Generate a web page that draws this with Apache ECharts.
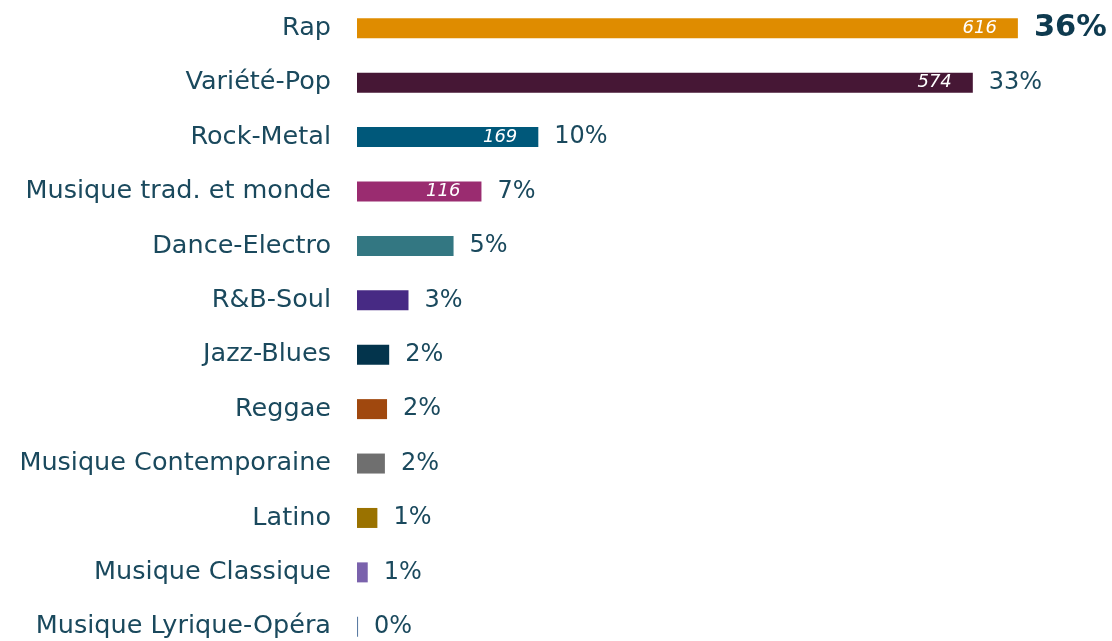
<!DOCTYPE html>
<html>
<head>
<meta charset="utf-8">
<script src="https://cdn.jsdelivr.net/npm/echarts@6/dist/echarts.min.js"></script>
<style>
  html, body { margin: 0; padding: 0; background: #ffffff; }
  #chart { width: 1112px; height: 641px; }
</style>
</head>
<body>
<div id="chart"></div>
<script>
// Genres, top to bottom
const genres = [
  'Rap', 'Variété-Pop', 'Rock-Metal', 'Musique trad. et monde', 'Dance-Electro',
  'R&B-Soul', 'Jazz-Blues', 'Reggae', 'Musique Contemporaine', 'Latino',
  'Musique Classique', 'Musique Lyrique-Opéra'
];
// Counts per genre
const counts = [616, 574, 169, 116, 90, 48, 30, 28, 26, 19, 10, 1];
// Counts printed inside the bars (only the largest genres)
const shownCounts = [616, 574, 169, 116, null, null, null, null, null, null, null, null];
// Share labels to the right of each bar
const shares = ['36%', '33%', '10%', '7%', '5%', '3%', '2%', '2%', '2%', '1%', '1%', '0%'];
// Bar colours per genre
const colors = [
  '#DF8C00', '#461735', '#00587A', '#9A2C70', '#337782', '#472A84',
  '#03344C', '#A0480E', '#6F6F6F', '#9A7200', '#7A62AC', '#5B7CA3'
];

const FONT = 'DejaVu Sans';
const TEXT = '#1A495D';

const chart = echarts.init(document.getElementById('chart'));
chart.setOption({
  animation: false,
  grid: {
    left: 357, right: 4, top: 1, height: 653,
    containLabel: false, outerBoundsMode: 'none'
  },
  xAxis: {
    type: 'value', min: 0, max: 700, show: false
  },
  yAxis: {
    type: 'category', data: genres, inverse: true,
    axisLine: { show: false }, axisTick: { show: false },
    axisLabel: {
      margin: 26, color: TEXT, fontFamily: FONT, fontSize: 25.5
    }
  },
  series: [
    {
      type: 'bar',
      data: counts.map((v, i) => ({ value: v, itemStyle: { color: colors[i] } })),
      barWidth: 20,
      label: {
        show: true, position: 'insideRight', distance: 21,
        fontFamily: FONT, fontStyle: 'italic', fontSize: 18, color: '#ffffff',
        formatter: p => shownCounts[p.dataIndex] == null ? '' : String(shownCounts[p.dataIndex])
      }
    },
    {
      type: 'bar',
      data: counts,
      barWidth: 20,
      barGap: '-100%',
      itemStyle: { color: 'rgba(0,0,0,0)' },
      silent: true,
      label: {
        show: true, position: 'right', distance: 16,
        fontFamily: FONT, fontSize: 24, color: TEXT,
        formatter: p => p.dataIndex === 0 ? '{big|' + shares[0] + '}' : shares[p.dataIndex],
        rich: {
          big: { fontFamily: FONT, fontSize: 30.5, fontWeight: 'bold', color: '#0E3A4F' }
        }
      }
    }
  ]
});
</script>
</body>
</html>
